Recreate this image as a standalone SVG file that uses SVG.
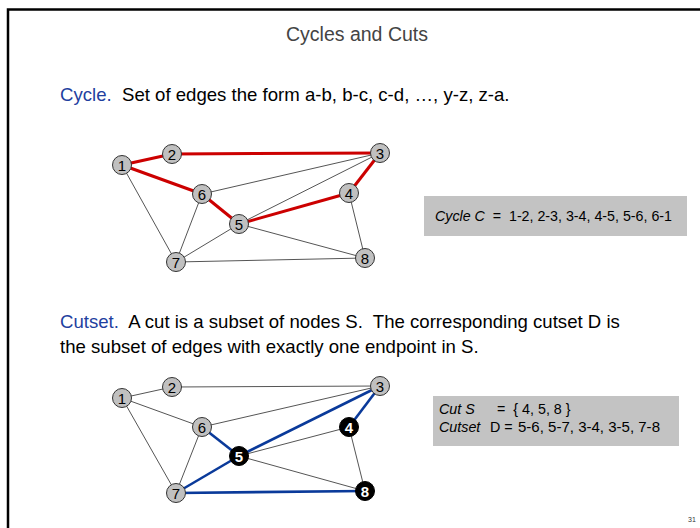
<svg xmlns="http://www.w3.org/2000/svg" width="700" height="528" viewBox="0 0 700 528">
<style>
text{font-family:"Comic Sans MS","Liberation Sans","DejaVu Sans",sans-serif}
.title{font-size:19.5px;fill:#444;text-anchor:middle}
.body{font-size:18.6px;fill:#000}
.kw{fill:#1f3f9f}
.box{fill:#c3c3c3}
.bt{font-size:14.3px;fill:#000}
.e{stroke:#555;stroke-width:1;fill:none}
.r{stroke:#cc0000;stroke-width:3;fill:none}
.b{stroke:#0a3a9a;stroke-width:2.6;fill:none}
.n circle{fill:#c0c0c0;stroke:#333;stroke-width:1}
.n text{font-size:15px;fill:#000;text-anchor:middle}
.k circle{fill:#000;stroke:#000;stroke-width:1}
.k text{font-size:15px;fill:#fff;text-anchor:middle;font-weight:bold}
</style>
<rect width="700" height="528" fill="#fff"/>
<path d="M8 528 V9.5 H700" stroke="#000" stroke-width="2.5" fill="none"/>
<text class="title" x="357" y="41">Cycles and Cuts</text>
<text class="body" x="60" y="101" xml:space="preserve"><tspan class="kw">Cycle.</tspan>  Set of edges the form a-b, b-c, c-d, …, y-z, z-a.</text>
<text class="body" x="60" y="328" xml:space="preserve"><tspan class="kw">Cutset.</tspan>  A cut is a subset of nodes S.  The corresponding cutset D is</text>
<text class="body" x="60" y="353">the subset of edges with exactly one endpoint in S.</text>

<g id="connectors1">
<line class="e" x1="122" y1="165" x2="176" y2="262"/>
<line class="e" x1="202" y1="194" x2="380" y2="153"/>
<line class="e" x1="202" y1="194" x2="176" y2="262"/>
<line class="e" x1="239" y1="224" x2="380" y2="153"/>
<line class="e" x1="239" y1="224" x2="365" y2="258"/>
<line class="e" x1="239" y1="224" x2="176" y2="262"/>
<line class="e" x1="349" y1="193" x2="365" y2="258"/>
<line class="e" x1="176" y1="262" x2="365" y2="258"/>
<line class="r" x1="122" y1="165" x2="172" y2="154"/>
<line class="r" x1="172" y1="154" x2="380" y2="153"/>
<line class="r" x1="380" y1="153" x2="349" y2="193"/>
<line class="r" x1="349" y1="193" x2="239" y2="224"/>
<line class="r" x1="239" y1="224" x2="202" y2="194"/>
<line class="r" x1="202" y1="194" x2="122" y2="165"/>
</g>
<g id="g1n1" class="n"><circle cx="122" cy="165" r="9.5"/><text x="122" y="170.5">1</text></g>
<g id="g1n2" class="n"><circle cx="172" cy="154" r="9.5"/><text x="172" y="159.5">2</text></g>
<g id="g1n3" class="n"><circle cx="380" cy="153" r="9.5"/><text x="380" y="158.5">3</text></g>
<g id="g1n4" class="n"><circle cx="349" cy="193" r="9.5"/><text x="349" y="198.5">4</text></g>
<g id="g1n5" class="n"><circle cx="239" cy="224" r="9.5"/><text x="239" y="229.5">5</text></g>
<g id="g1n6" class="n"><circle cx="202" cy="194" r="9.5"/><text x="202" y="199.5">6</text></g>
<g id="g1n7" class="n"><circle cx="176" cy="262" r="9.5"/><text x="176" y="267.5">7</text></g>
<g id="g1n8" class="n"><circle cx="365" cy="258" r="9.5"/><text x="365" y="263.5">8</text></g>

<g id="cycleBox">
<rect class="box" x="424" y="196" width="263" height="40"/>
<text class="bt" x="435" y="221" xml:space="preserve" textLength="237" lengthAdjust="spacingAndGlyphs"><tspan font-style="italic">Cycle C</tspan>  =  1-2, 2-3, 3-4, 4-5, 5-6, 6-1</text>
</g>

<g id="connectors2">
<line class="e" x1="122" y1="398" x2="172" y2="387"/>
<line class="e" x1="172" y1="387" x2="380" y2="386"/>
<line class="e" x1="122" y1="398" x2="202" y2="427"/>
<line class="e" x1="122" y1="398" x2="176" y2="493"/>
<line class="e" x1="202" y1="427" x2="380" y2="386"/>
<line class="e" x1="202" y1="427" x2="176" y2="493"/>
<line class="e" x1="239" y1="456" x2="349" y2="427"/>
<line class="e" x1="239" y1="456" x2="365" y2="491"/>
<line class="e" x1="349" y1="427" x2="365" y2="491"/>
<line class="b" x1="239" y1="456" x2="202" y2="427"/>
<line class="b" x1="239" y1="456" x2="176" y2="493"/>
<line class="b" x1="380" y1="386" x2="349" y2="427"/>
<line class="b" x1="380" y1="386" x2="239" y2="456"/>
<line class="b" x1="176" y1="493" x2="365" y2="491"/>
</g>
<g id="g2n1" class="n"><circle cx="122" cy="398" r="9.5"/><text x="122" y="403.5">1</text></g>
<g id="g2n2" class="n"><circle cx="172" cy="387" r="9.5"/><text x="172" y="392.5">2</text></g>
<g id="g2n3" class="n"><circle cx="380" cy="386" r="9.5"/><text x="380" y="391.5">3</text></g>
<g id="g2n4" class="k"><circle cx="349" cy="427" r="9.5"/><text x="349" y="432.5">4</text></g>
<g id="g2n5" class="k"><circle cx="239" cy="456" r="9.5"/><text x="239" y="461.5">5</text></g>
<g id="g2n6" class="n"><circle cx="202" cy="427" r="9.5"/><text x="202" y="432.5">6</text></g>
<g id="g2n7" class="n"><circle cx="176" cy="493" r="9.5"/><text x="176" y="498.5">7</text></g>
<g id="g2n8" class="k"><circle cx="365" cy="491" r="9.5"/><text x="365" y="496.5">8</text></g>

<g id="cutBox">
<rect class="box" x="433" y="396" width="246" height="50"/>
<text class="bt" x="439" y="414" xml:space="preserve"><tspan font-style="italic">Cut S</tspan><tspan x="497">=  { 4, 5, 8 }</tspan></text>
<text class="bt" x="439" y="432"><tspan font-style="italic">Cutset</tspan><tspan x="490">D =</tspan><tspan x="518" textLength="142" lengthAdjust="spacingAndGlyphs">5-6, 5-7, 3-4, 3-5, 7-8</tspan></text>
</g>

<text x="692" y="522" font-size="7" fill="#333" text-anchor="middle">31</text>
</svg>
